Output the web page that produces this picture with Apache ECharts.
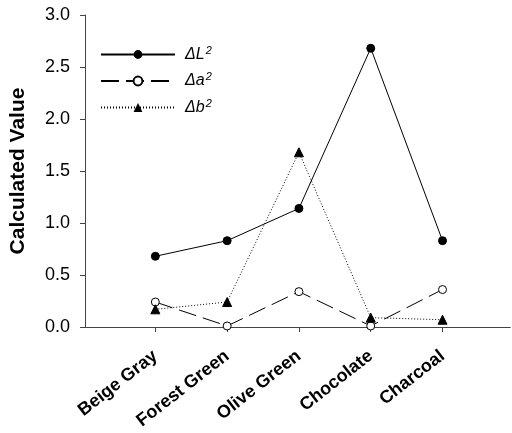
<!DOCTYPE html>
<html><head><meta charset="utf-8">
<script src="https://cdn.jsdelivr.net/npm/echarts@6/dist/echarts.min.js"></script>
<style>html,body{margin:0;padding:0;background:#fff}#c{width:512px;height:433px}</style>
</head><body><div id="c"></div>
<script>
const categories = ['Beige Gray', 'Forest Green', 'Olive Green', 'Chocolate', 'Charcoal'];
const dL2 = [0.68, 0.83, 1.14, 2.68, 0.83];
const da2 = [0.24, 0.01, 0.34, 0.01, 0.36];
const db2 = [0.17, 0.24, 1.68, 0.09, 0.07];
const yTicks = [0, 0.5, 1.0, 1.5, 2.0, 2.5, 3.0];
const seriesNames = ['ΔL2', 'Δa2', 'Δb2'];

const pos = categories.map((c, i) => i + 1);
const toData = arr => arr.map((v, i) => [pos[i], v]);
const font = 'Liberation Sans, Arial, sans-serif';

const chart = echarts.init(document.getElementById('c'));
chart.setOption({
  animation: false,
  backgroundColor: '#fff',
  grid: { left: 82, top: 15, width: 428, height: 312 },
  legend: {
    orient: 'vertical', left: 95, top: 40, itemWidth: 74, itemHeight: 11, itemGap: 9,
    data: seriesNames,
    formatter: n => '{i|Δ' + n.charAt(1) + '}{s|2}',
    textStyle: {
      rich: {
        i: { fontFamily: font, fontStyle: 'italic', fontSize: 16, color: '#000', padding: [0, 0, 0, 5] },
        s: { fontFamily: font, fontStyle: 'italic', fontSize: 11, color: '#000', verticalAlign: 'top', padding: [0, 0, 8, 1] }
      }
    }
  },
  xAxis: [{
    type: 'value', min: 0.02, max: 5.94,
    axisLine: { show: true, onZero: false, lineStyle: { color: '#444', width: 1 } },
    axisTick: { show: true, length: 5, lineStyle: { color: '#444' }, customValues: pos },
    splitLine: { show: false },
    axisLabel: {
      customValues: pos, rotate: 38, margin: 27,
      formatter: v => categories[Math.round(v) - 1] || '',
      fontFamily: font, fontWeight: 'bold', fontSize: 18, color: '#000'
    }
  }, {
    type: 'value', position: 'top', min: 0, max: 1,
    axisLine: { show: true, lineStyle: { color: '#444', width: 1 } },
    axisTick: { show: false }, axisLabel: { show: false }, splitLine: { show: false }
  }],
  yAxis: {
    type: 'value', min: 0, max: 3, interval: 0.5,
    name: 'Calculated Value', nameLocation: 'middle', nameGap: 56, nameRotate: 90,
    nameTextStyle: { fontFamily: font, fontWeight: 'bold', fontSize: 21, color: '#000' },
    axisLine: { show: true, lineStyle: { color: '#444', width: 1 } },
    axisTick: { show: true, length: 5, lineStyle: { color: '#444' } },
    splitLine: { show: false },
    axisLabel: {
      margin: 15, fontFamily: font, fontSize: 18, color: '#000',
      formatter: v => yTicks.includes(v) ? v.toFixed(1) : ''
    }
  },
  series: [
    {
      name: seriesNames[0], type: 'line', data: toData(dL2),
      symbol: 'circle', symbolSize: 8,
      itemStyle: { color: '#000', borderColor: '#000' },
      lineStyle: { color: '#000', width: 1, type: 'solid' }
    },
    {
      name: seriesNames[1], type: 'line', data: toData(da2),
      symbol: 'circle', symbolSize: 8,
      itemStyle: { color: '#fff', borderColor: '#000', borderWidth: 1 },
      lineStyle: { color: '#000', width: 1, type: [18, 7] }
    },
    {
      name: seriesNames[2], type: 'line', data: toData(db2),
      symbol: 'triangle', symbolSize: 9,
      itemStyle: { color: '#000', borderColor: '#000' },
      lineStyle: { color: '#000', width: 1, type: [1, 2] }
    }
  ]
});
</script></body></html>
